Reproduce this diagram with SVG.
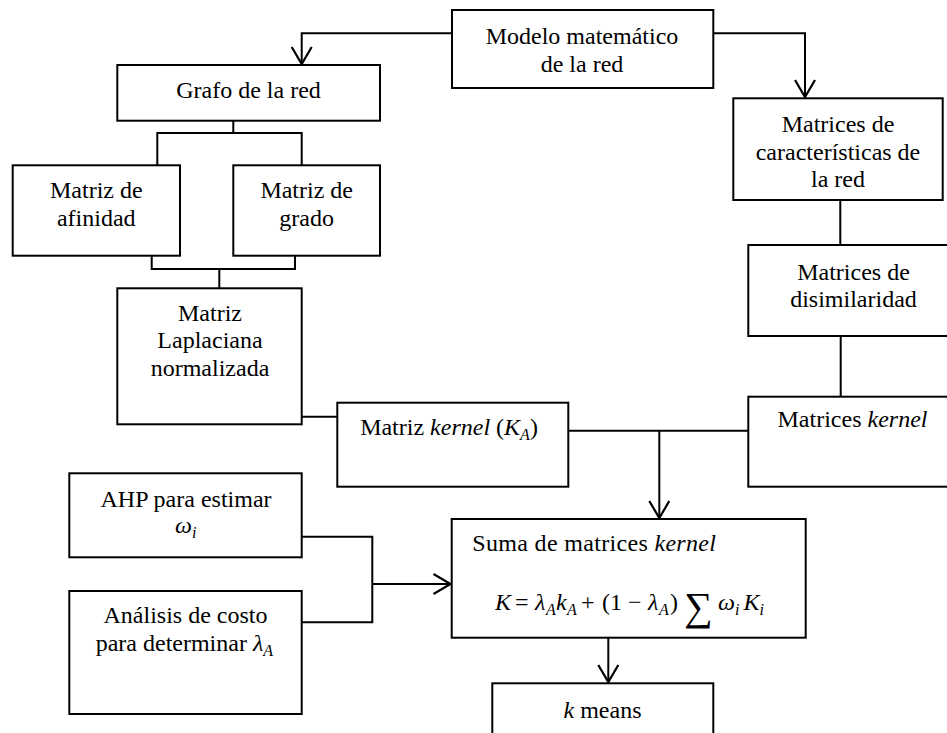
<svg xmlns="http://www.w3.org/2000/svg" width="947" height="733" viewBox="0 0 947 733">
<style>
.box{fill:#fff;stroke:#000;stroke-width:2}
.ln{fill:none;stroke:#000;stroke-width:2}
text{font-family:"Liberation Serif","Times New Roman",serif;font-size:24px;fill:#000}
.c{text-anchor:middle}
.it{font-style:italic}
.sub{font-size:16px;font-style:italic}
</style>
<defs>
<marker id="arr" viewBox="-20 -12 24 24" markerWidth="24" markerHeight="24" refX="0" refY="0" orient="auto" markerUnits="userSpaceOnUse">
<path d="M-17,-10 L0,0 L-17,10" fill="none" stroke="#000" stroke-width="2.2"/>
</marker>
</defs>
<rect width="947" height="733" fill="#fff"/>
<g id="connectors">
<path class="ln" d="M452,33.3 H301.7 V64" marker-end="url(#arr)"/>
<path class="ln" d="M713,33.3 H805 V97" marker-end="url(#arr)"/>
<path class="ln" d="M233.3,121 V133 M157.3,133 H301.7 M157.3,132 V165.3 M301.7,132 V165.3"/>
<path class="ln" d="M151.7,255.7 V269 H295 V255.7 M219.3,269 V288.3"/>
<path class="ln" d="M301.7,416.7 H337.3"/>
<path class="ln" d="M568.3,430.7 H748.3"/>
<path class="ln" d="M659.3,431 V518" marker-end="url(#arr)"/>
<path class="ln" d="M840.3,200 V245 M840.7,336 V396.7"/>
<path class="ln" d="M301.7,536.7 H372.3 V622.3 H301.7"/>
<path class="ln" d="M372.3,584 H450.5" marker-end="url(#arr)"/>
<path class="ln" d="M608.3,637.7 V682" marker-end="url(#arr)"/>
</g>
<g id="modelo">
<rect class="box" x="452" y="10" width="261.3" height="78"/>
<text class="c" x="582" y="43.5">Modelo matemático</text>
<text class="c" x="582" y="71.7">de la red</text>
</g>
<g id="grafo">
<rect class="box" x="117.3" y="65" width="262.7" height="55.7"/>
<text class="c" x="248.5" y="98">Grafo de la red</text>
</g>
<g id="afinidad">
<rect class="box" x="12.7" y="165.3" width="167.3" height="90.4"/>
<text class="c" x="96.3" y="198">Matriz de</text>
<text class="c" x="96.3" y="226">afinidad</text>
</g>
<g id="grado">
<rect class="box" x="233.3" y="165.3" width="146.7" height="90.4"/>
<text class="c" x="306.7" y="198">Matriz de</text>
<text class="c" x="306.7" y="226">grado</text>
</g>
<g id="laplaciana">
<rect class="box" x="117.3" y="288.3" width="184.4" height="136"/>
<text class="c" x="210" y="320.7">Matriz</text>
<text class="c" x="210" y="348.3">Laplaciana</text>
<text class="c" x="210" y="376">normalizada</text>
</g>
<g id="kernelA">
<rect class="box" x="337.3" y="402.7" width="231" height="84"/>
<text class="c" x="449" y="435">Matriz <tspan class="it">kernel</tspan> (<tspan class="it">K</tspan><tspan class="sub" dy="5">A</tspan><tspan dy="-5">)</tspan></text>
</g>
<g id="caracteristicas">
<rect class="box" x="733.3" y="98.3" width="209.4" height="101.7"/>
<text class="c" x="838" y="131.7">Matrices de</text>
<text class="c" x="838" y="160">características de</text>
<text class="c" x="838" y="186.7">la red</text>
</g>
<g id="disimilaridad">
<rect class="box" x="748.3" y="245" width="212" height="91"/>
<text class="c" x="853.5" y="280">Matrices de</text>
<text class="c" x="853.5" y="307">disimilaridad</text>
</g>
<g id="kernels">
<rect class="box" x="748.3" y="396.7" width="212" height="90"/>
<text class="c" x="852.5" y="427.3">Matrices <tspan class="it">kernel</tspan></text>
</g>
<g id="ahp">
<rect class="box" x="69.3" y="473.3" width="232.4" height="84"/>
<text class="c" x="186" y="506.7">AHP para estimar</text>
<text x="175" y="533.3"><tspan class="it">ω</tspan><tspan class="sub" dy="5">i</tspan></text>
</g>
<g id="costo">
<rect class="box" x="69.3" y="591" width="232.4" height="123"/>
<text class="c" x="185.5" y="622.7">Análisis de costo</text>
<text x="95.7" y="650.7">para determinar <tspan class="it">λ</tspan><tspan class="sub" dy="5">A</tspan></text>
</g>
<g id="suma">
<rect class="box" x="451.7" y="519" width="354" height="118.7"/>
<text x="472.3" y="550.7" textLength="243.7">Suma de matrices <tspan class="it">kernel</tspan></text>
<text y="610"><tspan class="it" x="495">K</tspan><tspan x="515">=</tspan><tspan class="it" x="535">λ</tspan><tspan class="sub" x="546" dy="5">A</tspan><tspan class="it" x="556" dy="-5">k</tspan><tspan class="sub" x="567" dy="5">A</tspan><tspan x="581" dy="-5">+</tspan><tspan x="602">(1</tspan><tspan x="628">−</tspan><tspan class="it" x="648">λ</tspan><tspan class="sub" x="659" dy="5">A</tspan><tspan x="670" dy="-5">)</tspan><tspan x="684" dy="10" style="font-size:40px">∑</tspan></text>
<text x="718" y="610"><tspan class="it">ω</tspan><tspan class="sub" dy="5">i</tspan><tspan class="it" dx="4" dy="-5">K</tspan><tspan class="sub" dy="5">i</tspan></text>
</g>
<g id="kmeans">
<rect class="box" x="492.3" y="683.3" width="221" height="60"/>
<text class="c" x="602.5" y="717.7"><tspan class="it">k</tspan> means</text>
</g>
</svg>
